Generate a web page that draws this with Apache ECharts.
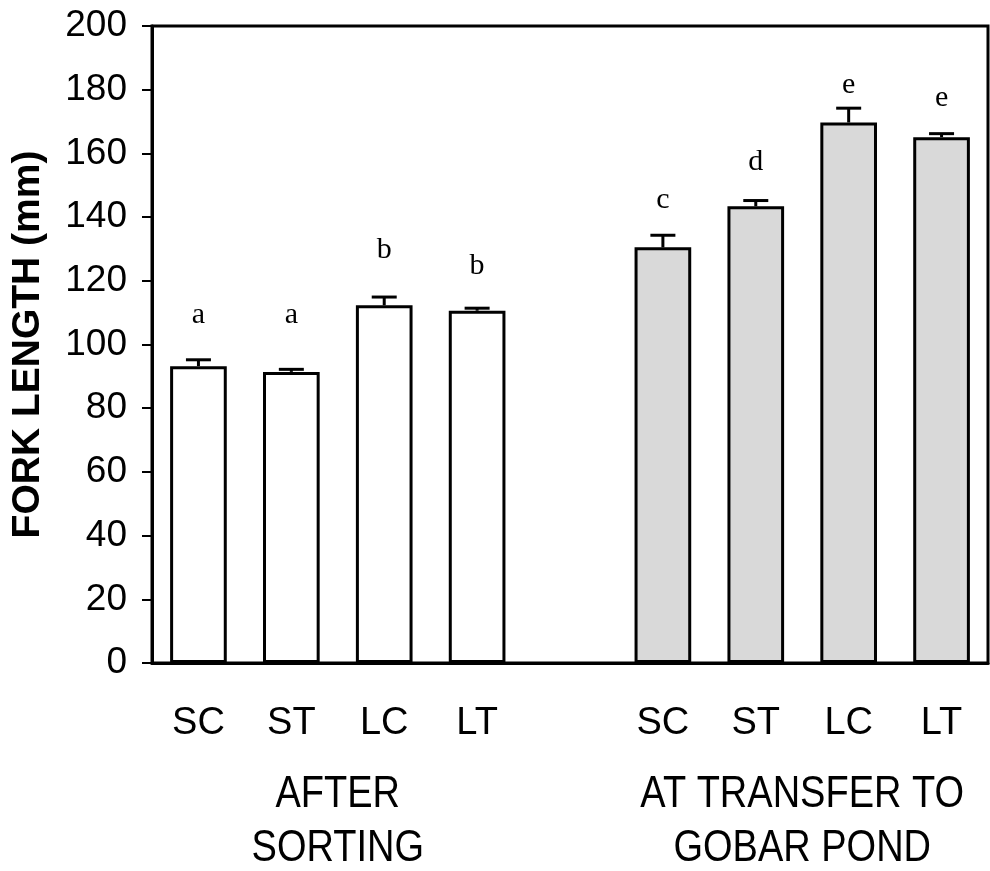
<!DOCTYPE html>
<html>
<head>
<meta charset="utf-8">
<script src="https://cdn.jsdelivr.net/npm/echarts@6/dist/echarts.min.js"></script>
<style>html,body{margin:0;padding:0;background:#fff}#c{width:990px;height:871px}</style>
</head>
<body>
<div id="c"></div>
<script>
var categories = ['SC', 'ST', 'LC', 'LT', '', 'SC', 'ST', 'LC', 'LT'];
var means = [93.2, 91.4, 112.3, 110.6, null, 130.5, 143.4, 169.7, 165.1];
var errors = [2.0, 0.8, 2.6, 0.8, null, 3.8, 1.8, 4.5, 1.1];
var letters = ['a', 'a', 'b', 'b', '', 'c', 'd', 'e', 'e'];
var letterY = [109.3, 109.3, 129.5, 124.6, null, 145.4, 157.3, 181.5, 177.4];
var groupNames = ['AFTER\nSORTING', 'AT TRANSFER TO\nGOBAR POND'];
var groupSpans = [[1, 2], [6, 7]];
var yTicks = {min: 0, max: 200, interval: 20};

var chart = echarts.init(document.getElementById('c'), null, {renderer: 'canvas'});

var barData = means.map(function (v, i) {
  if (v === null) return null;
  return {value: v, itemStyle: {color: i > 4 ? '#d9d9d9' : '#ffffff'}};
});
var errData = means.map(function (v, i) { return v === null ? [i, null, null] : [i, v, errors[i]]; });
var letterData = letterY.map(function (v, i) { return v === null ? [i, null] : [i, v]; });

var option = {
  animation: false,
  backgroundColor: '#fff',
  grid: {left: 152, right: 2, top: 26, bottom: 208, show: true, borderColor: '#000', borderWidth: 3, containLabel: false},
  xAxis: {
    type: 'category', data: categories, boundaryGap: true,
    axisLine: {lineStyle: {color: '#000', width: 3}},
    axisTick: {show: false},
    axisLabel: {color: '#000', fontSize: 38, fontFamily: 'Liberation Sans, Arial, sans-serif', margin: 42, interval: 0}
  },
  yAxis: {
    type: 'value', min: yTicks.min, max: yTicks.max, interval: yTicks.interval,
    name: 'FORK LENGTH (mm)', nameLocation: 'middle', nameRotate: 90, nameGap: 104,
    nameTextStyle: {color: '#000', fontSize: 39, fontWeight: 'bold', fontFamily: 'Liberation Sans, Arial, sans-serif'},
    axisLine: {show: true, lineStyle: {color: '#000', width: 3}},
    axisTick: {show: true, inside: false, length: 10, lineStyle: {color: '#000', width: 2}},
    axisLabel: {color: '#000', fontSize: 37, fontFamily: 'Liberation Sans, Arial, sans-serif', margin: 25},
    splitLine: {show: false}
  },
  series: [
    {
      type: 'bar', data: barData, barWidth: '61%',
      itemStyle: {borderColor: '#000', borderWidth: 3}
    },
    {
      type: 'custom', data: errData, z: 5,
      renderItem: function (params, api) {
        var m = api.value(1);
        if (m === null || isNaN(m)) return null;
        var e = api.value(2);
        var base = api.coord([api.value(0), m]);
        var top = api.coord([api.value(0), m + e]);
        var hw = 12.5;
        return {
          type: 'group',
          children: [
            {type: 'line', shape: {x1: base[0], y1: base[1], x2: top[0], y2: top[1]}, style: {stroke: '#000', lineWidth: 3}},
            {type: 'line', shape: {x1: top[0] - hw, y1: top[1], x2: top[0] + hw, y2: top[1]}, style: {stroke: '#000', lineWidth: 3}}
          ]
        };
      }
    },
    {
      type: 'custom', data: letterData, z: 6,
      encode: {x: 0, y: 1},
      renderItem: function (params, api) {
        var y = api.value(1);
        if (y === null || isNaN(y)) return null;
        var p = api.coord([api.value(0), y]);
        return {
          type: 'text', x: p[0], y: p[1],
          style: {text: letters[params.dataIndex], fill: '#000', font: '30px "Liberation Serif", "Times New Roman", serif', align: 'center', verticalAlign: 'middle'}
        };
      }
    }
  ]
};
chart.setOption(option);

var graphics = groupNames.map(function (name, g) {
  var a = chart.convertToPixel({xAxisIndex: 0}, groupSpans[g][0]);
  var b = chart.convertToPixel({xAxisIndex: 0}, groupSpans[g][1]);
  return {
    type: 'text', x: (a + b) / 2, y: 768, scaleY: 1.15,
    style: {text: name, fill: '#000', font: '38px "Liberation Sans", Arial, sans-serif', align: 'center', verticalAlign: 'top', lineHeight: 47}
  };
});
chart.setOption({graphic: graphics});
</script>
</body>
</html>
